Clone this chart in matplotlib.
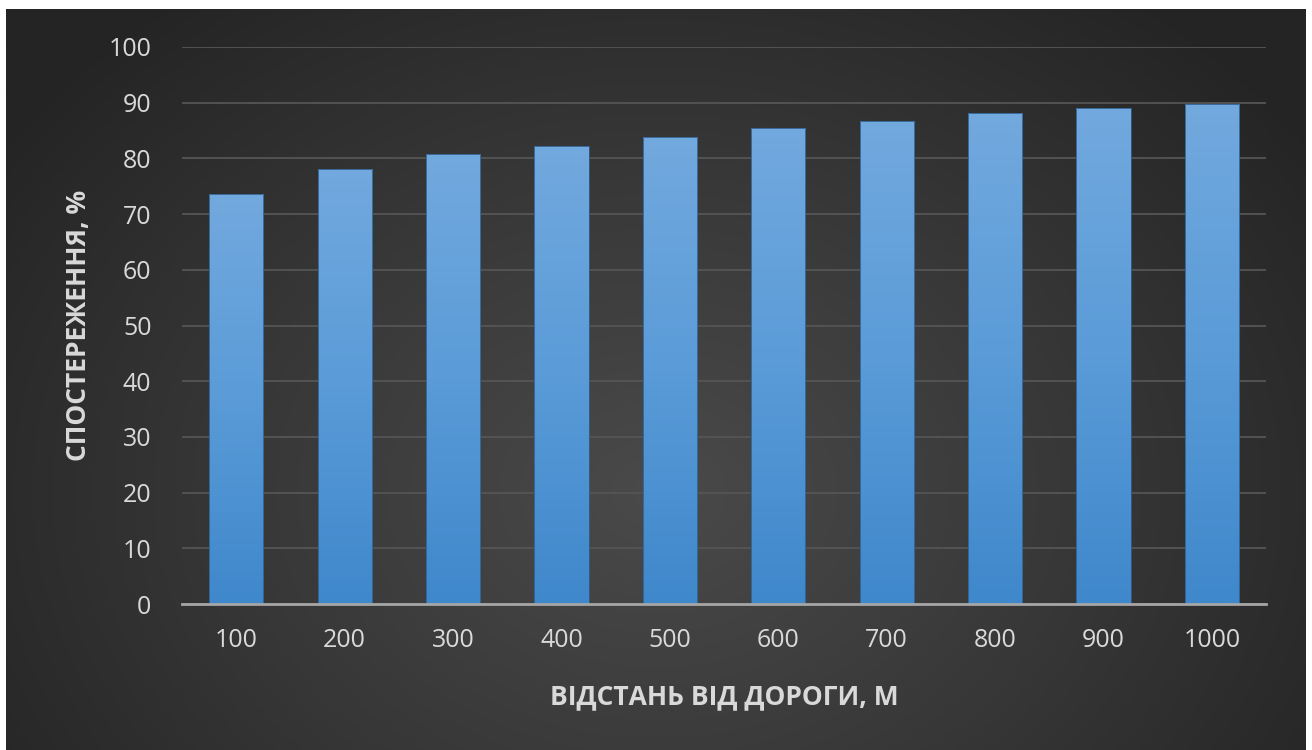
import numpy as np
import matplotlib
matplotlib.use("Agg")
import matplotlib.pyplot as plt
from matplotlib.colors import LinearSegmentedColormap

categories = ["100", "200", "300", "400", "500", "600", "700", "800", "900", "1000"]
values = [73.6, 78.1, 80.8, 82.2, 83.8, 85.5, 86.7, 88.1, 89.0, 89.8]
y_ticks = [0, 10, 20, 30, 40, 50, 60, 70, 80, 90, 100]
x_label = "ВІДСТАНЬ ВІД ДОРОГИ, М"
y_label = "СПОСТЕРЕЖЕННЯ, %"

plt.rcParams['font.family'] = ['Open Sans', 'DejaVu Sans']

fig = plt.figure(figsize=(13.12, 7.5), dpi=100, facecolor="white")

# background panel with radial gradient
bg = fig.add_axes([6/1312, 0, 1300/1312, 741/750])
bg.set_axis_off()
ny, nx = 300, 520
yy, xx = np.mgrid[0:ny, 0:nx]
cx, cy = nx * 0.5, ny * 0.65
r = np.sqrt(((xx - cx) / (nx * 0.62)) ** 2 + ((yy - cy) / (ny * 0.85)) ** 2)
r = np.clip(r, 0, 1)
bg_cmap = LinearSegmentedColormap.from_list("bg", ["#4a4a4a", "#383838", "#242424"])
bg.imshow(r, cmap=bg_cmap, aspect="auto", extent=(0, 1, 0, 1), origin="upper", vmin=0, vmax=1)
bg.set_xlim(0, 1)
bg.set_ylim(0, 1)

ax = fig.add_axes([182/1312, 1 - 604/750, 1084/1312, 557/750])
ax.patch.set_alpha(0)
x = np.arange(len(categories))
bars = ax.bar(x, values, width=0.5, color="none", edgecolor="#2f5f8f", linewidth=0.6, zorder=3)

bar_cmap = LinearSegmentedColormap.from_list("bar", ["#3f88cb", "#5a9bd8", "#72a9de"])
grad = np.linspace(0, 1, 256).reshape(-1, 1)
for b in bars:
    x0 = b.get_x()
    w = b.get_width()
    h = b.get_height()
    im = ax.imshow(grad, cmap=bar_cmap, aspect="auto", origin="lower",
                   extent=(x0, x0 + w, 0, h), zorder=2.5)
    im.set_clip_path(b)

ax.set_xlim(-0.5, len(categories) - 0.5)
ax.set_ylim(0, 100)
ax.set_yticks(y_ticks)
ax.set_xticks(x)
ax.set_xticklabels(categories)
ax.grid(axis="y", color="#555555", linewidth=1.3, zorder=1)
ax.set_axisbelow(True)
for s in ["top", "right", "left"]:
    ax.spines[s].set_visible(False)
ax.spines["bottom"].set_color("#a6a6a6")
ax.spines["bottom"].set_linewidth(2)
ax.spines["bottom"].set_zorder(4)
ax.tick_params(axis="both", length=0, labelsize=18, labelcolor="#d9d9d9")
ax.tick_params(axis="y", pad=22)
ax.tick_params(axis="x", pad=17)

ax.set_xlabel(x_label, fontsize=19, fontweight="bold", color="#d9d9d9", labelpad=22)
ax.set_ylabel(y_label, fontsize=19, fontweight="bold", color="#d9d9d9", labelpad=12)

fig.savefig("out.png", dpi=100, facecolor="white")
